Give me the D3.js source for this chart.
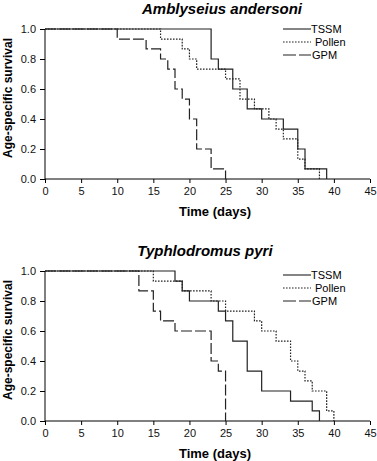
<!DOCTYPE html>
<html>
<head>
<meta charset="utf-8">
<script src="https://cdn.jsdelivr.net/npm/d3@7"></script>
<style>
  body { margin: 0; background: #fff; }
  svg { display: block; font-family: "Liberation Sans", Arial, sans-serif; }
</style>
</head>
<body>
<svg id="chart" width="377" height="461"></svg>
<script>
// Survival step data: day of each drop and survival after it
const xTicks = [0, 5, 10, 15, 20, 25, 30, 35, 40, 45];
const yTicks = [0, 0.2, 0.4, 0.6, 0.8, 1.0];
const seriesNames = ["TSSM", "Pollen", "GPM"];

// Amblyseius andersoni
const andersoniTSSM = [[0, 1], [23, 0.8], [24, 0.733], [26, 0.6], [28, 0.467], [30, 0.4], [33, 0.333], [35, 0.2], [36, 0.067], [39, 0]];
const andersoniPollen = [[0, 1], [16, 0.933], [19, 0.867], [20, 0.8], [21, 0.733], [25, 0.667], [27, 0.533], [29, 0.467], [31, 0.4], [32, 0.333], [33, 0.267], [35, 0.133], [36, 0.067], [38, 0]];
const andersoniGPM = [[0, 1], [10, 0.933], [14, 0.867], [16, 0.8], [17, 0.733], [18, 0.6], [19, 0.533], [20, 0.4], [21, 0.2], [23, 0.067], [25, 0]];

// Typhlodromus pyri
const pyriTSSM = [[0, 1], [18, 0.933], [19, 0.867], [20, 0.8], [24, 0.733], [25, 0.667], [26, 0.533], [28, 0.333], [30, 0.2], [34, 0.133], [37, 0.067], [38, 0]];
const pyriPollen = [[0, 1], [15, 0.933], [19, 0.867], [23, 0.8], [25, 0.733], [29, 0.667], [30, 0.6], [32, 0.533], [34, 0.4], [35, 0.333], [36, 0.267], [37, 0.2], [39, 0.067], [40, 0]];
const pyriGPM = [[0, 1], [13, 0.867], [15, 0.733], [16, 0.667], [18, 0.6], [23, 0.4], [24, 0.333], [25, 0]];

const panels = [
    { title: "Amblyseius andersoni", titleX: 222, top: 29, legendY: 29, series: [andersoniTSSM, andersoniPollen, andersoniGPM] },
    { title: "Typhlodromus pyri", titleX: 205, top: 271, legendY: 275, series: [pyriTSSM, pyriPollen, pyriGPM] }
];

// line styles per series (solid, dotted, dashed)
const dashes = { TSSM: null, Pollen: "1.6,1.4", GPM: "11,3" };

const svg = d3.select("#chart");
const left = 45, right = 370, plotH = 150;

function drawPanel(p) {
    const x = d3.scaleLinear().domain([0, 45]).range([left, right]);
    const y = d3.scaleLinear().domain([0, 1]).range([p.top + plotH, p.top]);
    const g = svg.append("g");

    // title
    g.append("text")
        .attr("x", p.titleX).attr("y", p.top - 15)
        .attr("text-anchor", "middle")
        .attr("font-size", "15px").attr("font-weight", "bold").attr("font-style", "italic")
        .text(p.title);

    // axes
    const xAxis = g.append("g")
        .attr("transform", `translate(0,${p.top + plotH})`)
        .call(d3.axisBottom(x).tickValues(xTicks).tickSize(4).tickPadding(4).tickFormat(d3.format("d")));
    const yAxis = g.append("g")
        .attr("transform", `translate(${left},0)`)
        .call(d3.axisLeft(y).tickValues(yTicks).tickSize(5).tickPadding(4).tickFormat(d3.format(".1f")));
    [xAxis, yAxis].forEach(a => {
        a.select(".domain").remove();
        a.selectAll("text").attr("font-size", "11px").attr("fill", "#111")
            .attr("font-family", "'Liberation Sans', Arial, sans-serif");
        a.selectAll("line").attr("stroke", "#000");
    });
    g.append("line").attr("x1", left).attr("x2", right)
        .attr("y1", p.top + plotH).attr("y2", p.top + plotH).attr("stroke", "#000");
    g.append("line").attr("x1", left).attr("x2", left)
        .attr("y1", p.top).attr("y2", p.top + plotH).attr("stroke", "#000");

    // axis titles
    g.append("text")
        .attr("x", 215).attr("y", p.top + plotH + 36.5)
        .attr("text-anchor", "middle")
        .attr("font-size", "13px").attr("font-weight", "bold")
        .text("Time (days)");
    g.append("text")
        .attr("transform", `translate(12,${p.top + 69}) rotate(-90)`)
        .attr("text-anchor", "middle")
        .attr("font-size", "12px").attr("font-weight", "bold")
        .text("Age-specific survival");

    // survival curves, drawn GPM first so the solid line is on top
    const line = d3.line()
        .x(d => x(d[0]))
        .y(d => y(d[1]))
        .curve(d3.curveStepAfter);
    [2, 1, 0].forEach(i => {
        g.append("path")
            .datum(p.series[i])
            .attr("fill", "none")
            .attr("stroke", "#222")
            .attr("stroke-width", 1.2)
            .attr("stroke-dasharray", dashes[seriesNames[i]])
            .attr("d", line);
    });

    // legend
    const legend = g.append("g").attr("transform", `translate(283,${p.legendY})`);
    seriesNames.forEach((name, i) => {
        const ly = i * 13;
        legend.append("line")
            .attr("x1", 0).attr("x2", 28).attr("y1", ly).attr("y2", ly)
            .attr("stroke", "#222").attr("stroke-width", 1.1)
            .attr("stroke-dasharray", name === "GPM" ? "13,3" : dashes[name]);
        legend.append("text")
            .attr("x", name === "Pollen" ? 32 : (name === "GPM" ? 29 : 28))
            .attr("y", ly + 4)
            .attr("font-size", "11px")
            .text(name);
    });
}

panels.forEach(drawPanel);
</script>
</body>
</html>
